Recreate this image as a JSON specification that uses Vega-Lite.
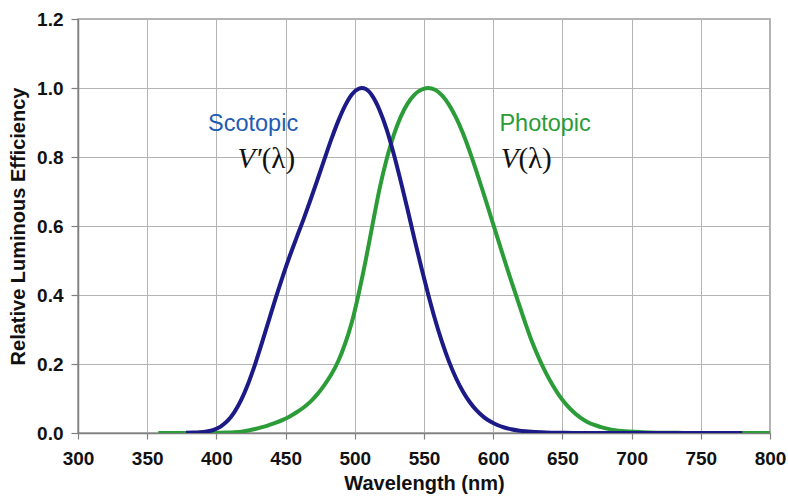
{
  "$schema": "https://vega.github.io/schema/vega-lite/v6.json",
  "width": 692,
  "height": 414,
  "autosize": "none",
  "padding": {"left": 78, "top": 19, "right": 18, "bottom": 64},
  "background": "white",
  "config": {
    "view": {"stroke": "#9a9a9a", "strokeWidth": 1.5},
    "axis": {
      "labelFont": "Liberation Sans",
      "labelFontWeight": "bold",
      "labelFontSize": 19,
      "labelColor": "#111",
      "labelFlush": false,
      "labelOverlap": false,
      "titleFont": "Liberation Sans",
      "titleFontWeight": "bold",
      "titleFontSize": 20,
      "titleColor": "#111",
      "gridColor": "#b4b4b4",
      "gridWidth": 1,
      "domainColor": "#808080",
      "domainWidth": 1.5,
      "tickColor": "#808080",
      "tickWidth": 1.2
    }
  },
  "datasets": {
    "curves": [
      {"wavelength": 358, "value": 0.0000039, "curve": "Photopic"},
      {"wavelength": 363, "value": 0.000007, "curve": "Photopic"},
      {"wavelength": 368, "value": 0.0000121, "curve": "Photopic"},
      {"wavelength": 373, "value": 0.0000218, "curve": "Photopic"},
      {"wavelength": 378, "value": 0.000039, "curve": "Photopic"},
      {"wavelength": 383, "value": 0.000064, "curve": "Photopic"},
      {"wavelength": 388, "value": 0.00012, "curve": "Photopic"},
      {"wavelength": 393, "value": 0.000217, "curve": "Photopic"},
      {"wavelength": 398, "value": 0.000396, "curve": "Photopic"},
      {"wavelength": 403, "value": 0.00064, "curve": "Photopic"},
      {"wavelength": 408, "value": 0.00121, "curve": "Photopic"},
      {"wavelength": 413, "value": 0.00218, "curve": "Photopic"},
      {"wavelength": 418, "value": 0.004, "curve": "Photopic"},
      {"wavelength": 423, "value": 0.0073, "curve": "Photopic"},
      {"wavelength": 428, "value": 0.0116, "curve": "Photopic"},
      {"wavelength": 433, "value": 0.01684, "curve": "Photopic"},
      {"wavelength": 438, "value": 0.023, "curve": "Photopic"},
      {"wavelength": 443, "value": 0.0298, "curve": "Photopic"},
      {"wavelength": 448, "value": 0.038, "curve": "Photopic"},
      {"wavelength": 453, "value": 0.048, "curve": "Photopic"},
      {"wavelength": 458, "value": 0.06, "curve": "Photopic"},
      {"wavelength": 463, "value": 0.0739, "curve": "Photopic"},
      {"wavelength": 468, "value": 0.09098, "curve": "Photopic"},
      {"wavelength": 473, "value": 0.1126, "curve": "Photopic"},
      {"wavelength": 478, "value": 0.13902, "curve": "Photopic"},
      {"wavelength": 483, "value": 0.1693, "curve": "Photopic"},
      {"wavelength": 488, "value": 0.20802, "curve": "Photopic"},
      {"wavelength": 493, "value": 0.2586, "curve": "Photopic"},
      {"wavelength": 498, "value": 0.323, "curve": "Photopic"},
      {"wavelength": 503, "value": 0.4073, "curve": "Photopic"},
      {"wavelength": 508, "value": 0.503, "curve": "Photopic"},
      {"wavelength": 513, "value": 0.6082, "curve": "Photopic"},
      {"wavelength": 518, "value": 0.71, "curve": "Photopic"},
      {"wavelength": 523, "value": 0.7932, "curve": "Photopic"},
      {"wavelength": 528, "value": 0.862, "curve": "Photopic"},
      {"wavelength": 533, "value": 0.9149, "curve": "Photopic"},
      {"wavelength": 538, "value": 0.954, "curve": "Photopic"},
      {"wavelength": 543, "value": 0.9803, "curve": "Photopic"},
      {"wavelength": 548, "value": 0.99495, "curve": "Photopic"},
      {"wavelength": 553, "value": 1.0, "curve": "Photopic"},
      {"wavelength": 558, "value": 0.995, "curve": "Photopic"},
      {"wavelength": 563, "value": 0.9786, "curve": "Photopic"},
      {"wavelength": 568, "value": 0.952, "curve": "Photopic"},
      {"wavelength": 573, "value": 0.9154, "curve": "Photopic"},
      {"wavelength": 578, "value": 0.87, "curve": "Photopic"},
      {"wavelength": 583, "value": 0.8163, "curve": "Photopic"},
      {"wavelength": 588, "value": 0.757, "curve": "Photopic"},
      {"wavelength": 593, "value": 0.6949, "curve": "Photopic"},
      {"wavelength": 598, "value": 0.631, "curve": "Photopic"},
      {"wavelength": 603, "value": 0.5668, "curve": "Photopic"},
      {"wavelength": 608, "value": 0.503, "curve": "Photopic"},
      {"wavelength": 613, "value": 0.4412, "curve": "Photopic"},
      {"wavelength": 618, "value": 0.381, "curve": "Photopic"},
      {"wavelength": 623, "value": 0.321, "curve": "Photopic"},
      {"wavelength": 628, "value": 0.265, "curve": "Photopic"},
      {"wavelength": 633, "value": 0.217, "curve": "Photopic"},
      {"wavelength": 638, "value": 0.175, "curve": "Photopic"},
      {"wavelength": 643, "value": 0.1382, "curve": "Photopic"},
      {"wavelength": 648, "value": 0.107, "curve": "Photopic"},
      {"wavelength": 653, "value": 0.0816, "curve": "Photopic"},
      {"wavelength": 658, "value": 0.061, "curve": "Photopic"},
      {"wavelength": 663, "value": 0.04458, "curve": "Photopic"},
      {"wavelength": 668, "value": 0.032, "curve": "Photopic"},
      {"wavelength": 673, "value": 0.0232, "curve": "Photopic"},
      {"wavelength": 678, "value": 0.017, "curve": "Photopic"},
      {"wavelength": 683, "value": 0.01192, "curve": "Photopic"},
      {"wavelength": 688, "value": 0.00821, "curve": "Photopic"},
      {"wavelength": 693, "value": 0.005723, "curve": "Photopic"},
      {"wavelength": 698, "value": 0.004102, "curve": "Photopic"},
      {"wavelength": 708, "value": 0.002091, "curve": "Photopic"},
      {"wavelength": 718, "value": 0.001047, "curve": "Photopic"},
      {"wavelength": 728, "value": 0.00052, "curve": "Photopic"},
      {"wavelength": 738, "value": 0.000249, "curve": "Photopic"},
      {"wavelength": 748, "value": 0.00012, "curve": "Photopic"},
      {"wavelength": 758, "value": 0.00006, "curve": "Photopic"},
      {"wavelength": 768, "value": 0.00003, "curve": "Photopic"},
      {"wavelength": 778, "value": 0.000015, "curve": "Photopic"},
      {"wavelength": 788, "value": 0.0000075, "curve": "Photopic"},
      {"wavelength": 800, "value": 0.0000035, "curve": "Photopic"},
      {"wavelength": 378, "value": 0.000589, "curve": "Scotopic"},
      {"wavelength": 383, "value": 0.001108, "curve": "Scotopic"},
      {"wavelength": 388, "value": 0.002209, "curve": "Scotopic"},
      {"wavelength": 393, "value": 0.00453, "curve": "Scotopic"},
      {"wavelength": 398, "value": 0.00929, "curve": "Scotopic"},
      {"wavelength": 403, "value": 0.01852, "curve": "Scotopic"},
      {"wavelength": 408, "value": 0.03484, "curve": "Scotopic"},
      {"wavelength": 413, "value": 0.0604, "curve": "Scotopic"},
      {"wavelength": 418, "value": 0.0966, "curve": "Scotopic"},
      {"wavelength": 423, "value": 0.1436, "curve": "Scotopic"},
      {"wavelength": 428, "value": 0.1998, "curve": "Scotopic"},
      {"wavelength": 433, "value": 0.2625, "curve": "Scotopic"},
      {"wavelength": 438, "value": 0.3281, "curve": "Scotopic"},
      {"wavelength": 443, "value": 0.3931, "curve": "Scotopic"},
      {"wavelength": 448, "value": 0.455, "curve": "Scotopic"},
      {"wavelength": 453, "value": 0.513, "curve": "Scotopic"},
      {"wavelength": 458, "value": 0.567, "curve": "Scotopic"},
      {"wavelength": 463, "value": 0.62, "curve": "Scotopic"},
      {"wavelength": 468, "value": 0.676, "curve": "Scotopic"},
      {"wavelength": 473, "value": 0.734, "curve": "Scotopic"},
      {"wavelength": 478, "value": 0.793, "curve": "Scotopic"},
      {"wavelength": 483, "value": 0.851, "curve": "Scotopic"},
      {"wavelength": 488, "value": 0.904, "curve": "Scotopic"},
      {"wavelength": 493, "value": 0.949, "curve": "Scotopic"},
      {"wavelength": 498, "value": 0.982, "curve": "Scotopic"},
      {"wavelength": 503, "value": 0.998, "curve": "Scotopic"},
      {"wavelength": 505, "value": 1.0, "curve": "Scotopic"},
      {"wavelength": 508, "value": 0.997, "curve": "Scotopic"},
      {"wavelength": 513, "value": 0.975, "curve": "Scotopic"},
      {"wavelength": 518, "value": 0.935, "curve": "Scotopic"},
      {"wavelength": 523, "value": 0.88, "curve": "Scotopic"},
      {"wavelength": 528, "value": 0.811, "curve": "Scotopic"},
      {"wavelength": 533, "value": 0.733, "curve": "Scotopic"},
      {"wavelength": 538, "value": 0.65, "curve": "Scotopic"},
      {"wavelength": 543, "value": 0.564, "curve": "Scotopic"},
      {"wavelength": 548, "value": 0.481, "curve": "Scotopic"},
      {"wavelength": 553, "value": 0.402, "curve": "Scotopic"},
      {"wavelength": 558, "value": 0.3288, "curve": "Scotopic"},
      {"wavelength": 563, "value": 0.2639, "curve": "Scotopic"},
      {"wavelength": 568, "value": 0.2076, "curve": "Scotopic"},
      {"wavelength": 573, "value": 0.1602, "curve": "Scotopic"},
      {"wavelength": 578, "value": 0.1212, "curve": "Scotopic"},
      {"wavelength": 583, "value": 0.0899, "curve": "Scotopic"},
      {"wavelength": 588, "value": 0.0655, "curve": "Scotopic"},
      {"wavelength": 593, "value": 0.0469, "curve": "Scotopic"},
      {"wavelength": 598, "value": 0.03315, "curve": "Scotopic"},
      {"wavelength": 603, "value": 0.0231, "curve": "Scotopic"},
      {"wavelength": 608, "value": 0.01593, "curve": "Scotopic"},
      {"wavelength": 613, "value": 0.01088, "curve": "Scotopic"},
      {"wavelength": 618, "value": 0.00737, "curve": "Scotopic"},
      {"wavelength": 623, "value": 0.00497, "curve": "Scotopic"},
      {"wavelength": 628, "value": 0.003335, "curve": "Scotopic"},
      {"wavelength": 638, "value": 0.001497, "curve": "Scotopic"},
      {"wavelength": 648, "value": 0.000677, "curve": "Scotopic"},
      {"wavelength": 658, "value": 0.000313, "curve": "Scotopic"},
      {"wavelength": 668, "value": 0.000148, "curve": "Scotopic"},
      {"wavelength": 678, "value": 0.0000715, "curve": "Scotopic"},
      {"wavelength": 688, "value": 0.0000353, "curve": "Scotopic"},
      {"wavelength": 698, "value": 0.0000178, "curve": "Scotopic"},
      {"wavelength": 718, "value": 0.0000048, "curve": "Scotopic"},
      {"wavelength": 738, "value": 0.0000014, "curve": "Scotopic"},
      {"wavelength": 758, "value": 0.0000004, "curve": "Scotopic"},
      {"wavelength": 780, "value": 0.0000001, "curve": "Scotopic"}
    ],
    "labels": [
      {"wavelength": 426.5, "value": 0.897, "text": "Scotopic", "curve": "Scotopic"},
      {"wavelength": 637.5, "value": 0.897, "text": "Photopic", "curve": "Photopic"}
    ]
  },
  "layer": [
    {
      "data": {"name": "curves"},
      "transform": [{"filter": "datum.curve === 'Photopic'"}],
      "mark": {"type": "line", "interpolate": "monotone", "strokeWidth": 4, "color": "#2b9c38", "clip": true},
      "encoding": {
        "x": {
          "field": "wavelength", "type": "quantitative",
          "scale": {"domain": [300, 800], "nice": false, "zero": false},
          "axis": {"title": "Wavelength (nm)", "values": [300, 350, 400, 450, 500, 550, 600, 650, 700, 750, 800], "tickSize": 6, "labelPadding": 10, "titlePadding": 5}
        },
        "y": {
          "field": "value", "type": "quantitative",
          "scale": {"domain": [0, 1.2], "nice": false},
          "axis": {"title": "Relative Luminous Efficiency", "values": [0, 0.2, 0.4, 0.6, 0.8, 1.0, 1.2], "format": ".1f", "tickSize": 7, "labelPadding": 8, "titlePadding": 8}
        }
      }
    },
    {
      "data": {"name": "curves"},
      "transform": [{"filter": "datum.curve === 'Scotopic'"}],
      "mark": {"type": "line", "interpolate": "monotone", "strokeWidth": 4, "color": "#1c1a86", "clip": true},
      "encoding": {
        "x": {"field": "wavelength", "type": "quantitative"},
        "y": {"field": "value", "type": "quantitative"}
      }
    },
    {
      "data": {"name": "labels"},
      "mark": {"type": "text", "font": "Liberation Sans", "fontSize": 23.5, "align": "center", "baseline": "middle"},
      "encoding": {
        "x": {"field": "wavelength", "type": "quantitative"},
        "y": {"field": "value", "type": "quantitative"},
        "text": {"field": "text"},
        "color": {"field": "curve", "type": "nominal", "scale": {"domain": ["Scotopic", "Photopic"], "range": ["#1f5bb3", "#2b9c38"]}, "legend": null}
      }
    },
    {
      "data": {"values": [{"wavelength": 432.7, "value": 0.794, "text": "V′"}, {"wavelength": 618.2, "value": 0.794, "text": "V"}]},
      "mark": {"type": "text", "font": "Liberation Serif", "fontStyle": "italic", "fontSize": 29, "align": "right", "baseline": "middle", "color": "#111"},
      "encoding": {
        "x": {"field": "wavelength", "type": "quantitative"},
        "y": {"field": "value", "type": "quantitative"},
        "text": {"field": "text"}
      }
    },
    {
      "data": {"values": [{"wavelength": 432.7, "value": 0.794, "text": "(λ)"}, {"wavelength": 618.2, "value": 0.794, "text": "(λ)"}]},
      "mark": {"type": "text", "font": "Liberation Serif", "fontSize": 29, "align": "left", "baseline": "middle", "color": "#111"},
      "encoding": {
        "x": {"field": "wavelength", "type": "quantitative"},
        "y": {"field": "value", "type": "quantitative"},
        "text": {"field": "text"}
      }
    }
  ]
}
